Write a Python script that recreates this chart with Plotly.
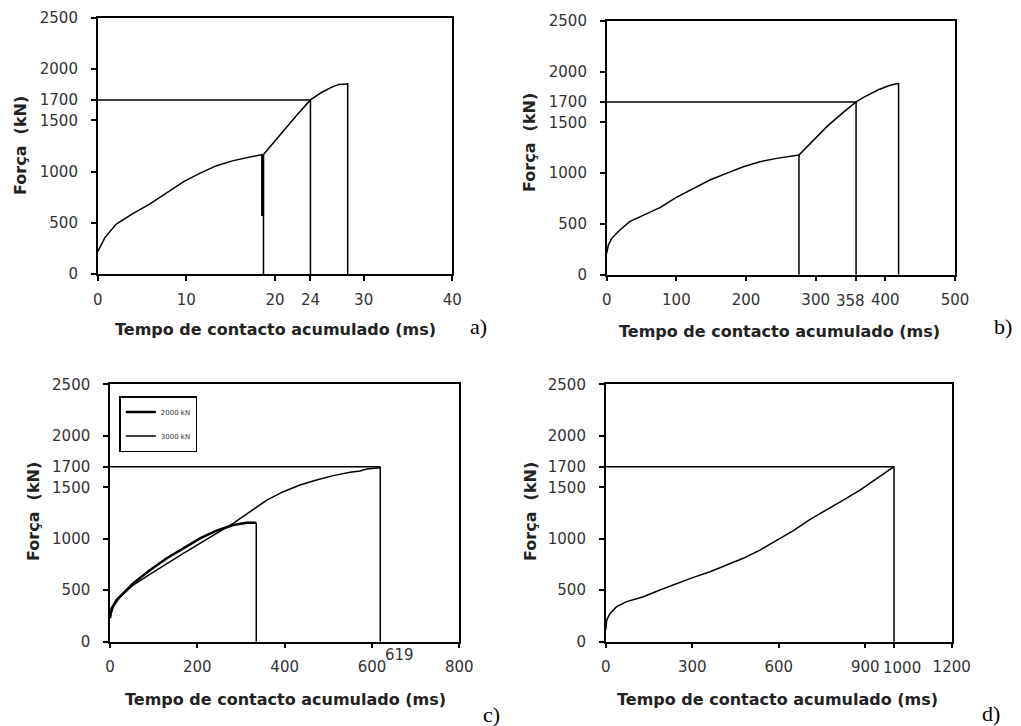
import plotly.graph_objects as go

# ---------------- data ----------------
# Panel a)
a_t1 = [0, 0.26, 0.83, 2.1, 4.0, 5.9, 7.8, 9.7, 11.5, 13.4, 15.3, 17.2, 18.6]
a_f1 = [218, 267, 358, 488, 592, 684, 794, 902, 983, 1058, 1107, 1146, 1168]
a_drop_t = [18.6, 18.6]
a_drop_f = [1168, 566]
a_t2 = [18.7, 19.5, 21.0, 22.5, 24.0, 25.2, 26.4, 27.2, 28.2]
a_f2 = [1168, 1250, 1400, 1555, 1700, 1770, 1825, 1850, 1855]
a_vlines = [18.7, 24, 28.2]
a_vtops = [1168, 1700, 1865]
a_xticks = [0, 10, 20, 24, 30, 40]

# Panel b)
b_t = [0, 2.4, 7.2, 19, 33, 53, 77, 100, 124, 148, 172, 196, 220, 244, 276,
       292, 316, 340, 358, 370, 390, 407, 419]
b_f = [210, 292, 358, 440, 522, 587, 663, 761, 850, 932, 997, 1063, 1112, 1145, 1178,
       1293, 1457, 1600, 1700, 1750, 1820, 1865, 1885]
b_vlines = [276, 358, 419]
b_vtops = [1178, 1700, 1885]
b_xticks = [0, 100, 200, 300, 358, 400, 500]
b_shifted_label = 358

# Panel c)
c_names = ["2000 kN", "3000 kN"]
c_t1 = [0, 3.8, 15, 38, 53, 92, 130, 168, 206, 244, 282, 313, 335]
c_f1 = [227, 324, 405, 502, 567, 696, 810, 907, 1004, 1078, 1133, 1156, 1156]
c_t2 = [0, 7.6, 23, 53, 92, 130, 168, 206, 244, 282, 321, 359, 397, 435, 473, 511,
        550, 573, 588, 619]
c_f2 = [243, 340, 437, 550, 657, 761, 858, 955, 1052, 1149, 1263, 1376, 1457, 1522,
        1570, 1613, 1645, 1658, 1677, 1690]
c_vlines = [335, 619]
c_vtops = [1156, 1700]
c_xticks = [0, 200, 400, 600, 800]
c_extra_label = 619

# Panel d)
d_t = [0, 3.5, 15, 38, 73, 131, 188, 246, 304, 362, 420, 477, 535, 593, 651, 709,
       766, 824, 882, 940, 1000]
d_f = [113, 210, 275, 340, 389, 437, 502, 567, 625, 680, 745, 810, 890, 988, 1078,
       1188, 1279, 1376, 1473, 1587, 1700]
d_vlines = [1000]
d_vtops = [1700]
d_xticks = [0, 300, 600, 900, 1000, 1200]
d_shifted_label = 1000

y_ticks = [0, 500, 1000, 1500, 1700, 2000, 2500]
f_ref = 1700
x_ranges = {"a": [0, 40], "b": [0, 500], "c": [0, 800], "d": [0, 1200]}
x_title = "Tempo de contacto acumulado (ms)"
y_title = "Força  (kN)"
panel_letters = ["a)", "b)", "c)", "d)"]

# ---------------- figure ----------------
W, H = 1021, 726
OFF = 8  # page body margin
fig = go.Figure()

def fx(x):
    return (x - OFF) / W

def fy(y):
    return 1 - (y - OFF) / H

def px_dom(x0, x1, y0, y1):
    return [fx(x0), fx(x1)], [fy(y1), fy(y0)]

doms = {
    "a": px_dom(97.7, 452.3, 18, 274),
    "b": px_dom(606.7, 955, 20.7, 274.7),
    "c": px_dom(110, 459.3, 384.3, 641.7),
    "d": px_dom(605.7, 951.7, 384.3, 641.7),
}
axes = {"a": ("x", "y"), "b": ("x2", "y2"), "c": ("x3", "y3"), "d": ("x4", "y4")}

LC = "black"

def line(xs, ys, ax, w=1.5, name=None, show=False, group=None):
    fig.add_trace(go.Scatter(x=xs, y=ys, mode="lines", xaxis=ax[0], yaxis=ax[1],
                             line=dict(color=LC, width=w), name=name,
                             showlegend=show, legendgroup=group, hoverinfo="skip"))

def refs(ax, vlines, vtops, xcross):
    xs, ys = [], []
    for v, t in zip(vlines, vtops):
        xs += [v, v, None]
        ys += [0, t, None]
    xs += [0, xcross]
    ys += [f_ref, f_ref]
    line(xs, ys, ax, w=1.5)

# a
ax = axes["a"]
line(a_t1, a_f1, ax)
line(a_drop_t, a_drop_f, ax, w=3)
line(a_t2, a_f2, ax)
refs(ax, a_vlines, a_vtops, 24)
# b
ax = axes["b"]
line(b_t, b_f, ax)
refs(ax, b_vlines, b_vtops, 358)
# c
ax = axes["c"]
line(c_t1, c_f1, ax, w=2.5, name=c_names[0], show=True, group="g1")
line(c_t2, c_f2, ax, w=1.5, name=c_names[1], show=True, group="g2")
refs(ax, c_vlines, c_vtops, 619)
# d
ax = axes["d"]
line(d_t, d_f, ax)
refs(ax, d_vlines, d_vtops, 1000)

tick_font = dict(family="DejaVu Sans, Arial, sans-serif", size=15, color="#333333")
xt = {"a": a_xticks, "b": b_xticks, "c": c_xticks, "d": d_xticks}
shifted = {"b": b_shifted_label, "d": d_shifted_label}

def tick_text(k, v):
    if shifted.get(k) == v:
        return ""  # drawn as a separately nudged label below
    return str(v)

layout = {}
for i, k in enumerate(["a", "b", "c", "d"]):
    sfx = "" if i == 0 else str(i + 1)
    xd, yd = doms[k]
    layout["xaxis" + sfx] = dict(
        domain=xd, range=x_ranges[k], anchor="y" + sfx, tickmode="array",
        tickvals=xt[k], ticktext=[tick_text(k, v) for v in xt[k]], tickangle=0,
        showline=True, mirror=True, linecolor=LC, linewidth=1.5,
        ticks="outside", ticklen=5, tickwidth=1.5, tickcolor=LC, automargin=False,
        showgrid=False, zeroline=False, tickfont=tick_font, ticklabelstandoff=6)
    layout["yaxis" + sfx] = dict(
        domain=yd, range=[0, 2500], anchor="x" + sfx, tickmode="array",
        tickvals=y_ticks, ticktext=[str(v) for v in y_ticks], automargin=False,
        showline=True, mirror=True, linecolor=LC, linewidth=1.5,
        ticks="outside", ticklen=5, tickwidth=1.5, tickcolor=LC,
        showgrid=False, zeroline=False, tickfont=tick_font, ticklabelstandoff=10)

fig.update_layout(**layout)

title_font = dict(family="DejaVu Sans, Arial, sans-serif", size=16, color="#222222")
annos = []
xt_pos = [(275, 330), (779, 331), (285, 699), (777, 699)]
yt_pos = [(20, 146), (530, 143), (33, 512), (530, 512)]
let_pos = [(478, 326), (1003, 326), (491, 714), (991, 713)]
for (xx, yy) in xt_pos:
    annos.append(dict(x=fx(xx), y=fy(yy), xref="paper", yref="paper",
                      text="<b>" + x_title + "</b>", showarrow=False,
                      font=title_font, xanchor="center", yanchor="middle"))
for (xx, yy) in yt_pos:
    annos.append(dict(x=fx(xx), y=fy(yy), xref="paper", yref="paper",
                      text="<b>" + y_title + "</b>", showarrow=False, textangle=-90,
                      font=title_font, xanchor="center", yanchor="middle"))
for (xx, yy), t in zip(let_pos, panel_letters):
    annos.append(dict(x=fx(xx), y=fy(yy), xref="paper", yref="paper",
                      text=t, showarrow=False,
                      font=dict(family="Liberation Serif, Times New Roman, serif",
                                size=22, color="black"),
                      xanchor="center", yanchor="middle"))
annos.append(dict(x=c_extra_label, y=0, xref="x3", yref="y3", text=str(c_extra_label),
                  showarrow=False, xanchor="left", yanchor="top", xshift=3, yshift=-2,
                  font=tick_font))
# nudged crowded tick labels
annos.append(dict(x=b_shifted_label, y=0, xref="x2", yref="y2", text=str(b_shifted_label),
                  showarrow=False, xanchor="center", yanchor="middle", xshift=-6,
                  yshift=-26, font=tick_font))
annos.append(dict(x=d_shifted_label, y=0, xref="x4", yref="y4", text=str(d_shifted_label),
                  showarrow=False, xanchor="center", yanchor="middle", xshift=8,
                  yshift=-26, font=tick_font))

fig.update_layout(
    width=W, height=H, margin=dict(l=0, r=0, t=0, b=0, autoexpand=False),
    paper_bgcolor="white", plot_bgcolor="white",
    annotations=annos,
    showlegend=True,
    legend=dict(x=fx(119.3), y=fy(396), xanchor="left", yanchor="top",
                bordercolor=LC, borderwidth=1.5, bgcolor="white",
                font=dict(family="DejaVu Sans, Arial, sans-serif", size=7, color="#333"),
                tracegroupgap=5, traceorder="grouped"),
)

fig.write_html("out.html")
